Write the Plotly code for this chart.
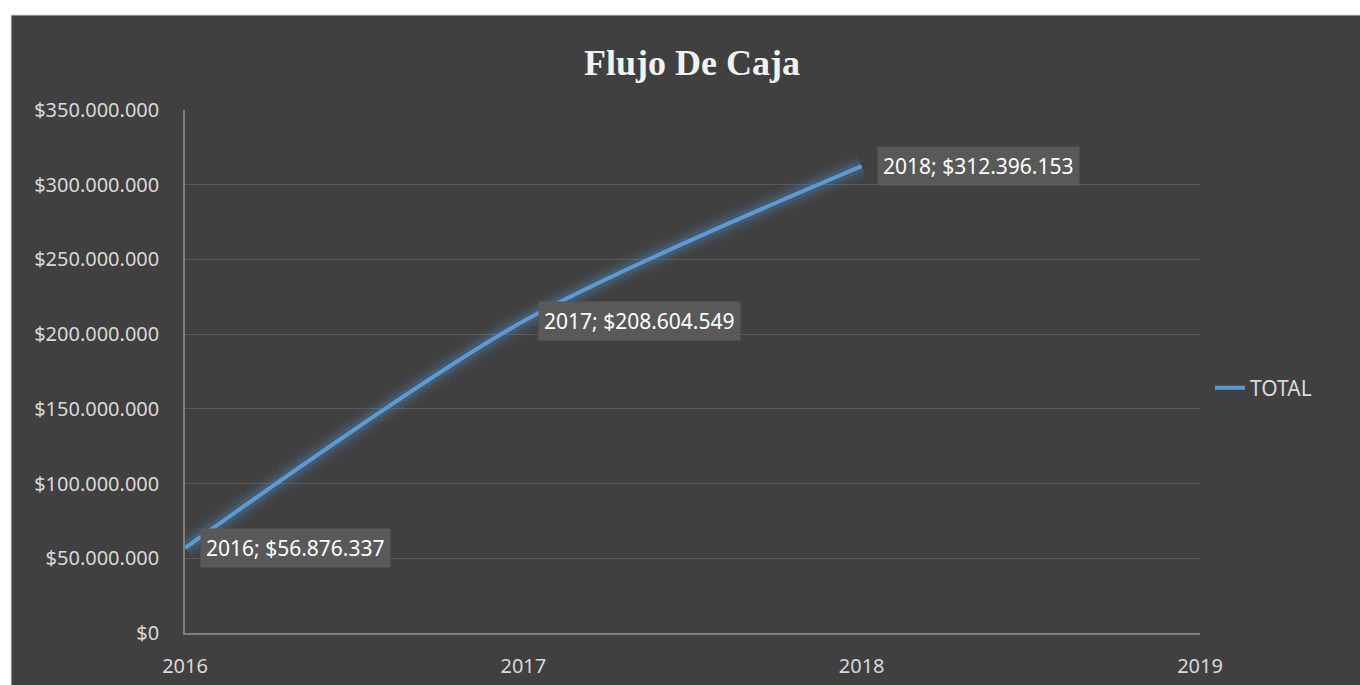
import plotly.graph_objects as go

years = [2016, 2017, 2018]
total = [56876337, 208604549, 312396153]
y_ticks = [0, 50000000, 100000000, 150000000, 200000000, 250000000, 300000000, 350000000]
x_ticks = [2016, 2017, 2018, 2019]
series_name = "TOTAL"
title_text = "Flujo De Caja"


def fmt(v):
    return "$" + f"{v:,}".replace(",", ".")


W, H = 1360, 685
L, R, T, B = 185, 160, 110, 52
pw, ph = W - L - R, H - T - B


def px_x(p):
    return (p - L) / pw


def px_y(p):
    return (H - B - p) / ph


line_color = "#5B9BD5"
fig = go.Figure()
for w, op in [(26, 0.06), (18, 0.09), (11, 0.15)]:
    fig.add_trace(go.Scatter(x=years, y=total, mode="lines",
                             line=dict(color=line_color, width=w, shape="spline", smoothing=0.8),
                             opacity=op, showlegend=False, hoverinfo="skip"))
fig.add_trace(go.Scatter(x=years, y=total, mode="lines", name=series_name,
                         line=dict(color=line_color, width=4, shape="spline", smoothing=0.8)))

for x, v in zip(years, total):
    fig.add_annotation(x=x, y=v, text=f"{x}; {fmt(v)}", showarrow=False,
                       xanchor="left", yanchor="middle", xshift=15,
                       bgcolor="#595959", borderpad=5,
                       font=dict(family="Noto Sans", size=21, color="#ffffff"))

shapes = [
    dict(type="rect", xref="paper", yref="paper", x0=px_x(-5), x1=px_x(W + 5),
         y0=px_y(15), y1=px_y(-5), fillcolor="#ffffff", line=dict(width=0), layer="above"),
    dict(type="rect", xref="paper", yref="paper", x0=px_x(-5), x1=px_x(11),
         y0=px_y(H + 5), y1=px_y(-5), fillcolor="#ffffff", line=dict(width=0), layer="above"),
    dict(type="line", xref="paper", yref="paper", x0=px_x(11), x1=px_x(W + 5),
         y0=px_y(15), y1=px_y(15), line=dict(color="#d9d9d9", width=1)),
    dict(type="line", xref="paper", yref="paper", x0=px_x(11), x1=px_x(11),
         y0=px_y(15), y1=px_y(H + 5), line=dict(color="#d9d9d9", width=1)),
]

fig.update_layout(
    width=W, height=H,
    margin=dict(l=L, r=R, t=T, b=B),
    paper_bgcolor="#404040", plot_bgcolor="#404040",
    shapes=shapes,
    title=dict(text=f"<b>{title_text}</b>", x=692 / W, xanchor="center",
               y=1 - 62 / H, yanchor="middle",
               font=dict(family="Liberation Serif", size=36, color="#f2f2f2")),
    xaxis=dict(range=[x_ticks[0], x_ticks[-1]], tickvals=x_ticks, ticktext=[str(t) for t in x_ticks],
               showgrid=False, zeroline=False, showline=True, linecolor="#7f7f7f", linewidth=1.5,
               ticks="", ticklabelstandoff=14, automargin=False,
               tickfont=dict(family="Noto Sans", size=20, color="#d9d9d9")),
    yaxis=dict(range=[0, 350000000], tickvals=y_ticks, ticktext=[fmt(t) for t in y_ticks],
               showgrid=True, gridcolor="#595959", gridwidth=1, zeroline=False,
               showline=True, linecolor="#7f7f7f", linewidth=1.5, ticks="", ticklabelstandoff=20,
               automargin=False,
               tickfont=dict(family="Noto Sans", size=20, color="#d9d9d9")),
    legend=dict(x=px_x(1210), y=px_y(388), xanchor="left", yanchor="middle",
                bgcolor="rgba(0,0,0,0)", font=dict(family="Noto Sans", size=21, color="#d9d9d9")),
    hovermode=False,
)

fig.write_html("out.html", config={"displayModeBar": False},
               post_script="document.body.style.margin='0';document.body.style.overflow='hidden';")
